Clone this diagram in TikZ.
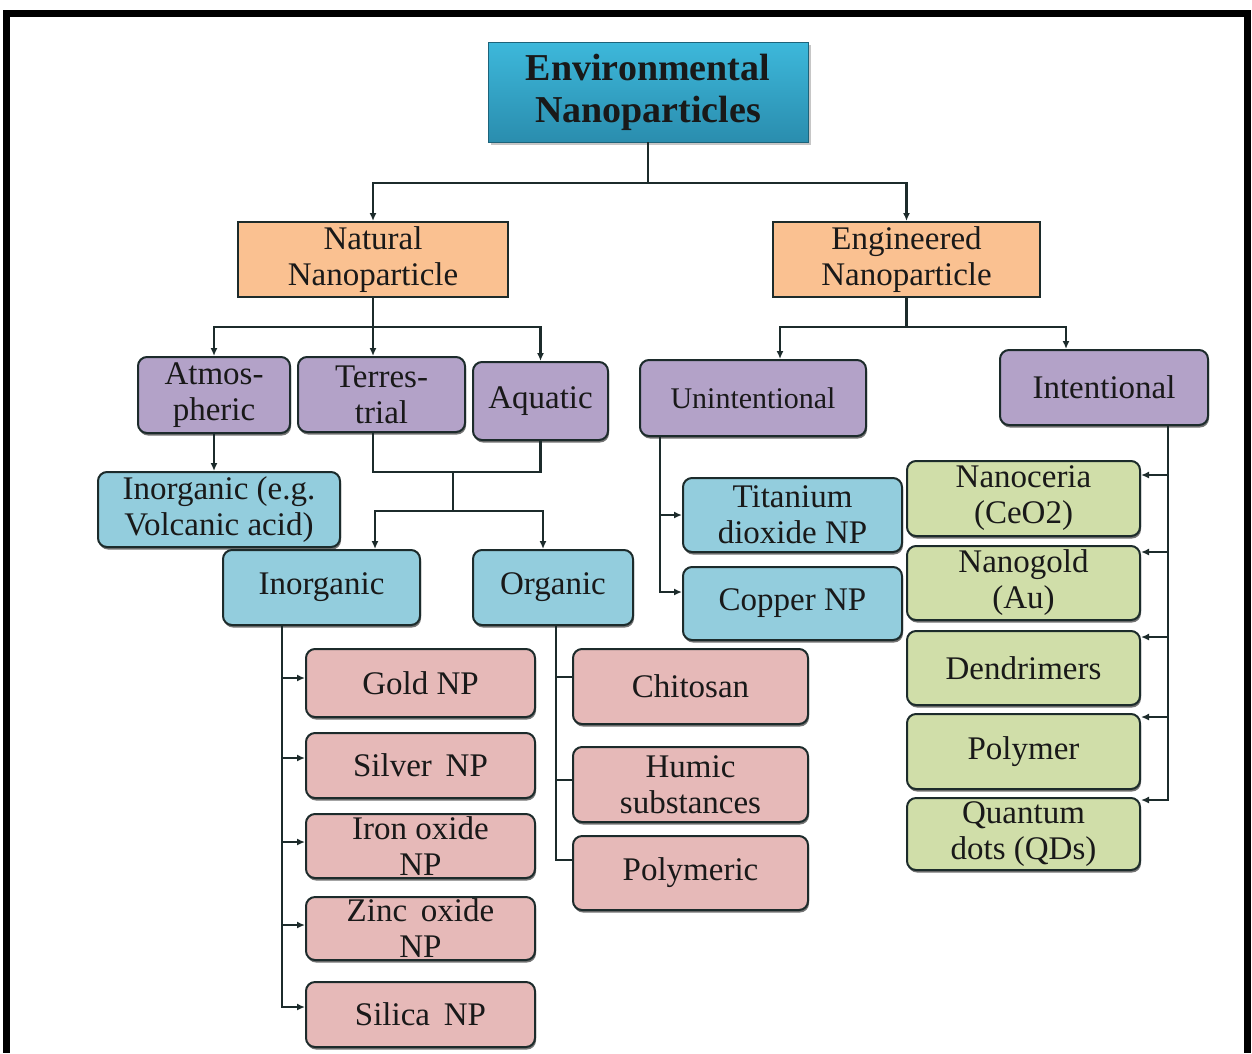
\documentclass[tikz,border=0pt]{standalone}
\usepackage{fontspec}
\setmainfont{Liberation Serif}
\usetikzlibrary{arrows.meta,shadows,calc}
\definecolor{titA}{HTML}{3DB8DB}
\definecolor{titB}{HTML}{2A8DAE}
\definecolor{orangeF}{HTML}{FAC191}
\definecolor{purpF}{HTML}{B3A2C8}
\definecolor{blueF}{HTML}{93CDDD}
\definecolor{pinkF}{HTML}{E6B9B8}
\definecolor{greenF}{HTML}{D0DEA9}
\definecolor{lineC}{HTML}{1C2B2B}
\begin{document}
\begin{tikzpicture}[x=1pt,y=-1pt,
  base/.style={draw=lineC, line width=2pt, inner sep=0pt, align=center,
    font=\fontsize{33}{36}\selectfont, text=black!90},
  wh/.style 2 args={minimum width=#1pt, minimum height=#2pt},
  sh/.style={drop shadow={shadow xshift=1pt, shadow yshift=-2.5pt, fill=black!55, opacity=1}},
  titlebox/.style={base, draw=titB!70!black, line width=0.8pt, top color=titA, bottom color=titB,
    font=\fontsize{38}{42}\selectfont\bfseries,
    drop shadow={shadow xshift=3pt, shadow yshift=-3pt, fill=black!50, opacity=0.45}},
  orng/.style={base, fill=orangeF},
  rb/.style={base, rounded corners=9pt, sh},
  purp/.style={rb, fill=purpF},
  blu/.style={rb, fill=blueF},
  pnk/.style={rb, fill=pinkF},
  grn/.style={rb, fill=greenF},
  conn/.style={draw=lineC, line width=2.8pt},
  arr/.style={conn, -{Latex[length=8pt,width=7pt]}},
]
\useasboundingbox (0,0) rectangle (1252,1053);
% frame
\fill[black] (3,10) rectangle (1251,17);
\fill[black] (3,10) rectangle (10,1053);
\fill[black] (1244,10) rectangle (1251,1053);

% nodes
\node[titlebox, wh={320}{100}] (env) at (648,92) {Environmental\\Nanoparticles};
\node[orng, wh={270}{75}] (nat) at (373,259.5) {Natural\\Nanoparticle};
\node[orng, wh={267}{75}] (eng) at (906.5,259.5) {Engineered\\Nanoparticle};

\node[purp, wh={152}{76}] (atm) at (214,395) {Atmos-\\pheric};
\node[purp, wh={167}{75}] (ter) at (381.5,394.5) {Terres-\\trial};
\node[purp, wh={135}{78}] (aqu) at (540.5,401) {Aquatic};
\node[purp, wh={226}{76}, font=\fontsize{30}{34}\selectfont] (uni) at (753,398) {Unintentional};
\node[purp, wh={208}{75}] (int) at (1104,387.5) {Intentional};

\node[blu, wh={242}{75}] (ieg) at (219,509.5) {Inorganic (e.g.\\Volcanic acid)};
\node[blu, wh={197}{75}] (ino) at (321.5,587.5) {Inorganic};
\node[blu, wh={160}{75}] (org) at (553,587.5) {Organic};
\node[blu, wh={219}{74}] (tio) at (792.5,515) {Titanium\\dioxide NP};
\node[blu, wh={219}{73}] (cu) at (792.5,603.5) {Copper NP};

\node[grn, wh={233}{75}] (ceo) at (1023.5,498.5) {Nanoceria\\(CeO2)};
\node[grn, wh={233}{74}] (au) at (1023.5,583) {Nanogold\\(Au)};
\node[grn, wh={233}{74}] (den) at (1023.5,668) {Dendrimers};
\node[grn, wh={233}{75}] (poly) at (1023.5,751.5) {Polymer};
\node[grn, wh={233}{72}] (qd) at (1023.5,834) {Quantum\\dots (QDs)};

\node[pnk, wh={229}{68}] (gold) at (420.5,683) {Gold NP};
\node[pnk, wh={229}{65}] (silv) at (420.5,765.5) {Silver\, NP};
\node[pnk, wh={229}{64}] (iron) at (420.5,846) {Iron oxide\\NP};
\node[pnk, wh={229}{63}] (zinc) at (420.5,928.5) {Zinc\, oxide\\NP};
\node[pnk, wh={229}{65}] (sil) at (420.5,1014.5) {Silica\, NP};

\node[pnk, wh={235}{75}] (chi) at (690.5,686.5) {Chitosan};
\node[pnk, wh={235}{75}] (hum) at (690.5,784.5) {Humic\\substances};
\node[pnk, wh={235}{74}] (pol) at (690.5,873) {Polymeric};

% connectors: top level
\coordinate (j0) at (648,183);
\draw[conn] (env.south) -- (j0);
\draw[arr] (j0) -| (nat.north);
\draw[arr] (j0) -| (eng.north);

% natural
\coordinate (j1) at (373,327);
\draw[conn] (nat.south) -- (j1);
\draw[arr] (j1) -| (atm.north);
\draw[arr] (j1) -- (j1 |- ter.north);
\draw[arr] (j1) -| (aqu.north);

% engineered
\coordinate (j2) at (906.5,327);
\draw[conn] (eng.south) -- (j2);
\draw[arr] (j2) -| ([xshift=27pt]uni.north);
\draw[arr] (j2) -| ([xshift=-38pt]int.north);

% atmospheric
\draw[arr] (atm.south) -- (atm.south |- ieg.north);

% terrestrial + aquatic
\coordinate (j3) at (373,472);
\coordinate (j5) at (453,511);
\draw[conn] (ter.south -| j3) -- (j3) -| (aqu.south);
\draw[conn] (j5 |- j3) -- (j5);
\draw[arr] (j5) -| ([xshift=53.5pt]ino.north);
\draw[arr] (j5) -| ([xshift=-10pt]org.north);

% unintentional
\coordinate (u0) at ([xshift=-93pt]uni.south);
\draw[arr] (u0) |- (cu.west |- 0,592);
\draw[arr] (u0 |- tio.west) -- (tio.west);

% intentional
\coordinate (i0) at ([xshift=64pt]int.south);
\draw[arr] (i0) |- (qd.east |- 0,800);
\draw[arr] (i0 |- 0,475) -- (ceo.east |- 0,475);
\draw[arr] (i0 |- 0,552) -- (au.east |- 0,552);
\draw[arr] (i0 |- 0,637) -- (den.east |- 0,637);
\draw[arr] (i0 |- 0,717) -- (poly.east |- 0,717);

% inorganic list
\coordinate (n0) at ([xshift=-39.5pt]ino.south);
\draw[arr] (n0) |- (sil.west |- 0,1007);
\draw[arr] (n0 |- 0,678) -- (gold.west |- 0,678);
\draw[arr] (n0 |- 0,758) -- (silv.west |- 0,758);
\draw[arr] (n0 |- 0,842) -- (iron.west |- 0,842);
\draw[arr] (n0 |- 0,925) -- (zinc.west |- 0,925);

% organic list
\coordinate (o0) at ([xshift=3pt]org.south);
\draw[conn] (o0) |- (pol.west |- 0,860);
\draw[conn] (o0 |- 0,677) -- (chi.west |- 0,677);
\draw[conn] (o0 |- 0,780) -- (hum.west |- 0,780);
\end{tikzpicture}
\end{document}
